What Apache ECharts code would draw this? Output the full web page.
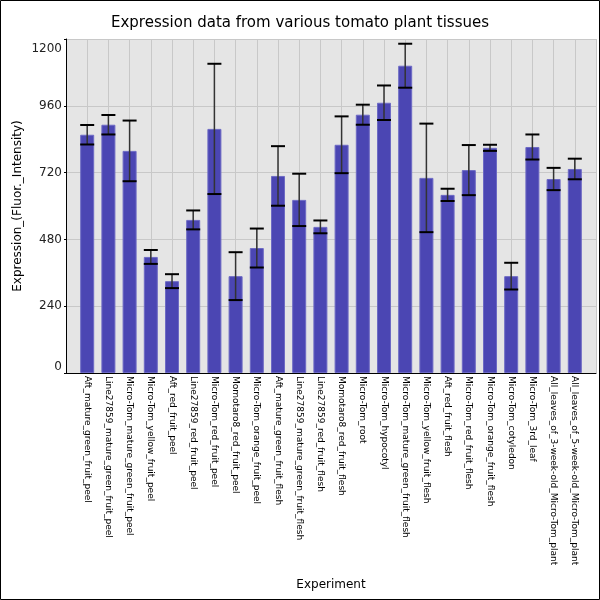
<!DOCTYPE html>
<html>
<head>
<meta charset="utf-8">
<script src="https://cdn.jsdelivr.net/npm/echarts@6/dist/echarts.min.js"></script>
<style>
  html, body { margin: 0; padding: 0; background: #fff; }
  #main { width: 600px; height: 600px; }
</style>
</head>
<body>
<div id="main"></div>
<script>
// tissues, in the order shown on the x axis
const experiments = [
  'Aft_mature_green_fruit_peel',
  'Line27859_mature_green_fruit_peel',
  'Micro-Tom_mature_green_fruit_peel',
  'Micro-Tom_yellow_fruit_peel',
  'Aft_red_fruit_peel',
  'Line27859_red_fruit_peel',
  'Micro-Tom_red_fruit_peel',
  'Momotaro8_red_fruit_peel',
  'Micro-Tom_orange_fruit_peel',
  'Aft_mature_green_fruit_flesh',
  'Line27859_mature_green_fruit_flesh',
  'Line27859_red_fruit_flesh',
  'Momotaro8_red_fruit_flesh',
  'Micro-Tom_root',
  'Micro-Tom_hypocotyl',
  'Micro-Tom_mature_green_fruit_flesh',
  'Micro-Tom_yellow_fruit_flesh',
  'Aft_red_fruit_flesh',
  'Micro-Tom_red_fruit_flesh',
  'Micro-Tom_orange_fruit_flesh',
  'Micro-Tom_cotyledon',
  'Micro-Tom_3rd_leaf',
  'All_leaves_of_3-week-old_Micro-Tom_plant',
  'All_leaves_of_5-week-old_Micro-Tom_plant'
];
const expression = [
  856, 892, 798, 417, 330, 550, 877, 348, 449, 708, 622, 525,
  820, 928, 971, 1104, 701, 640, 729, 809, 348, 812, 697, 733
];
const stdError = [
  35, 35, 109, 25, 25, 34, 234, 86, 70, 107, 94, 23,
  102, 36, 62, 79, 195, 22, 90, 11, 48, 45, 40, 37
];
const yTicks = [0, 240, 480, 720, 960, 1200];

const barData = expression.map((v, i) => [i, v]);
const errData = expression.map((v, i) => [i, v - stdError[i], v + stdError[i]]);
const yMax = yTicks[yTicks.length - 1];

const myChart = echarts.init(document.getElementById('main'));

const option = {
  animation: false,
  backgroundColor: '#fff',
  textStyle: { fontFamily: 'DejaVu Sans' },
  graphic: [{
    type: 'rect',
    shape: { x: 0.5, y: 0.5, width: 599, height: 599 },
    style: { fill: 'none', stroke: '#000', lineWidth: 1 },
    silent: true
  }],
  title: {
    text: 'Expression data from various tomato plant tissues',
    left: 'center',
    top: 11,
    textStyle: { fontSize: 15, fontWeight: 'normal', color: '#000' }
  },
  grid: {
    left: 66, right: 4, top: 39, bottom: 227,
    show: true, backgroundColor: '#e5e5e5', borderWidth: 0
  },
  xAxis: {
    type: 'value',
    min: -1, max: experiments.length,
    interval: 1,
    name: 'Experiment',
    nameLocation: 'middle',
    nameGap: 206,
    nameMoveOverlap: false,
    nameTextStyle: { fontSize: 12, color: '#000' },
    axisLine: { show: true, onZero: false, lineStyle: { color: '#000', width: 1 } },
    axisTick: { show: false },
    splitLine: { show: true, lineStyle: { color: '#c8c8c8', width: 1 } },
    axisLabel: {
      rotate: -90,
      fontSize: 9,
      color: '#000',
      margin: 3,
      showMinLabel: false,
      showMaxLabel: false,
      formatter: v => experiments[v] || ''
    }
  },
  yAxis: {
    type: 'value',
    min: yTicks[0], max: yMax,
    interval: yTicks[1] - yTicks[0],
    name: 'Expression_(Fluor._Intensity)',
    nameLocation: 'middle',
    nameGap: 42,
    nameMoveOverlap: false,
    nameTextStyle: { fontSize: 12, color: '#000' },
    axisLine: { show: true, onZero: false, lineStyle: { color: '#000', width: 1 } },
    axisTick: { show: true, length: 2, lineStyle: { color: '#000' } },
    splitLine: { show: true, lineStyle: { color: '#c8c8c8', width: 1 } },
    axisLabel: {
      fontSize: 12,
      color: '#222',
      margin: 4,
      formatter: v => v === yMax ? '{top|' + v + '}' : String(v),
      rich: { top: { fontSize: 12, color: '#222', padding: [4, 0, 0, 0] } },
      verticalAlignMaxLabel: 'top',
      verticalAlignMinLabel: 'bottom'
    }
  },
  series: [
    {
      type: 'bar',
      data: barData,
      barWidth: 14,
      itemStyle: { color: '#4b46b3', borderColor: '#6d6ac4', borderWidth: 1 }
    },
    {
      type: 'custom',
      data: errData,
      z: 10,
      renderItem: function (params, api) {
        const x = api.value(0);
        const lo = api.coord([x, api.value(1)]);
        const hi = api.coord([x, api.value(2)]);
        const w = 7;
        return {
          type: 'group',
          children: [
            { type: 'line', shape: { x1: hi[0], y1: hi[1], x2: lo[0], y2: lo[1] },
              style: { stroke: '#333', lineWidth: 1.5 } },
            { type: 'line', shape: { x1: hi[0] - w, y1: hi[1], x2: hi[0] + w, y2: hi[1] },
              style: { stroke: '#000', lineWidth: 2 } },
            { type: 'line', shape: { x1: lo[0] - w, y1: lo[1], x2: lo[0] + w, y2: lo[1] },
              style: { stroke: '#000', lineWidth: 2 } }
          ]
        };
      }
    }
  ]
};

myChart.setOption(option);
</script>
</body>
</html>
